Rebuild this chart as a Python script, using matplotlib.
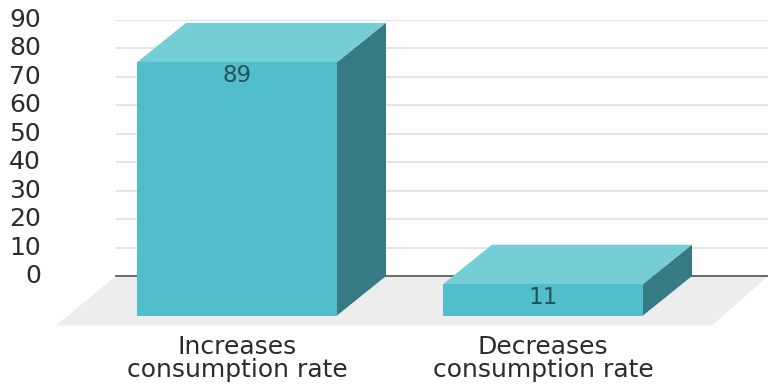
import numpy as np
import matplotlib
matplotlib.use('Agg')
import matplotlib.pyplot as plt
from matplotlib.patches import Polygon

categories = ['Increases\nconsumption rate', 'Decreases\nconsumption rate']
values = [89, 11]
yticks = [0, 10, 20, 30, 40, 50, 60, 70, 80, 90]

# colours of the box faces
front_col = '#52becc'
top_col = '#75ced6'
side_col = '#367b84'
floor_col = '#ededed'

W, H = 768, 387
fig = plt.figure(figsize=(W/100., H/100.), dpi=100)
ax = fig.add_axes([116./W, 1-276./H, (768-116.)/W, (276-20.)/H])

xmin, xmax = -121/306., 531/306.
ax.set_xlim(xmin, xmax)
ax.set_ylim(0, 90)

# 3d look: back plane is shifted from the front plane by this much
dx = 49/306.
dy = 39.5/2.844
width = 200/306.

ax.yaxis.grid(True, color='#e4e4e4', lw=1.5, zorder=0)
ax.set_axisbelow(True)
for sp in ['top', 'left', 'right']:
    ax.spines[sp].set_visible(False)
ax.spines['bottom'].set_color('#6a6a6a')
ax.spines['bottom'].set_linewidth(1.4)
ax.spines['bottom'].set_zorder(1)

# floor
floor_y = -17.4
ax.add_patch(Polygon([[xmin-60/306., floor_y], [xmin, 0], [xmax, 0], [xmax-56/306., floor_y]],
                     closed=True, fc=floor_col, ec='none', clip_on=False, zorder=1))

ax.bar(range(len(values)), values, width=width, bottom=-dy, color=front_col,
       clip_on=False, zorder=4)

for ii, val in enumerate(values):
    l, r = ii-width/2, ii+width/2
    top = val-dy
    ax.add_patch(Polygon([[l, top], [l+dx, top+dy], [r+dx, top+dy], [r, top]],
                         closed=True, fc=top_col, ec='none', clip_on=False, zorder=3))
    ax.add_patch(Polygon([[r, top], [r+dx, top+dy], [r+dx, 0], [r, -dy]],
                         closed=True, fc=side_col, ec='none', clip_on=False, zorder=3))
    ax.annotate(str(val), (ii, top), xytext=(0, -9.5), textcoords='offset points',
                ha='center', va='center', fontsize=16.5, color='#24525a',
                annotation_clip=False, zorder=5)

ax.set_yticks(yticks)
ax.set_xticks(range(len(values)))
ax.set_xticklabels(categories, fontsize=18, color='#2b2b2b', linespacing=0.93)
ax.tick_params(axis='x', length=0, pad=42.5)
ax.tick_params(axis='y', length=0, pad=54, labelsize=18, labelcolor='#2b2b2b')
for lab in ax.get_yticklabels():
    lab.set_verticalalignment('center')
    lab.set_y(lab.get_position()[1])

fig.savefig('out.png', dpi=100)
